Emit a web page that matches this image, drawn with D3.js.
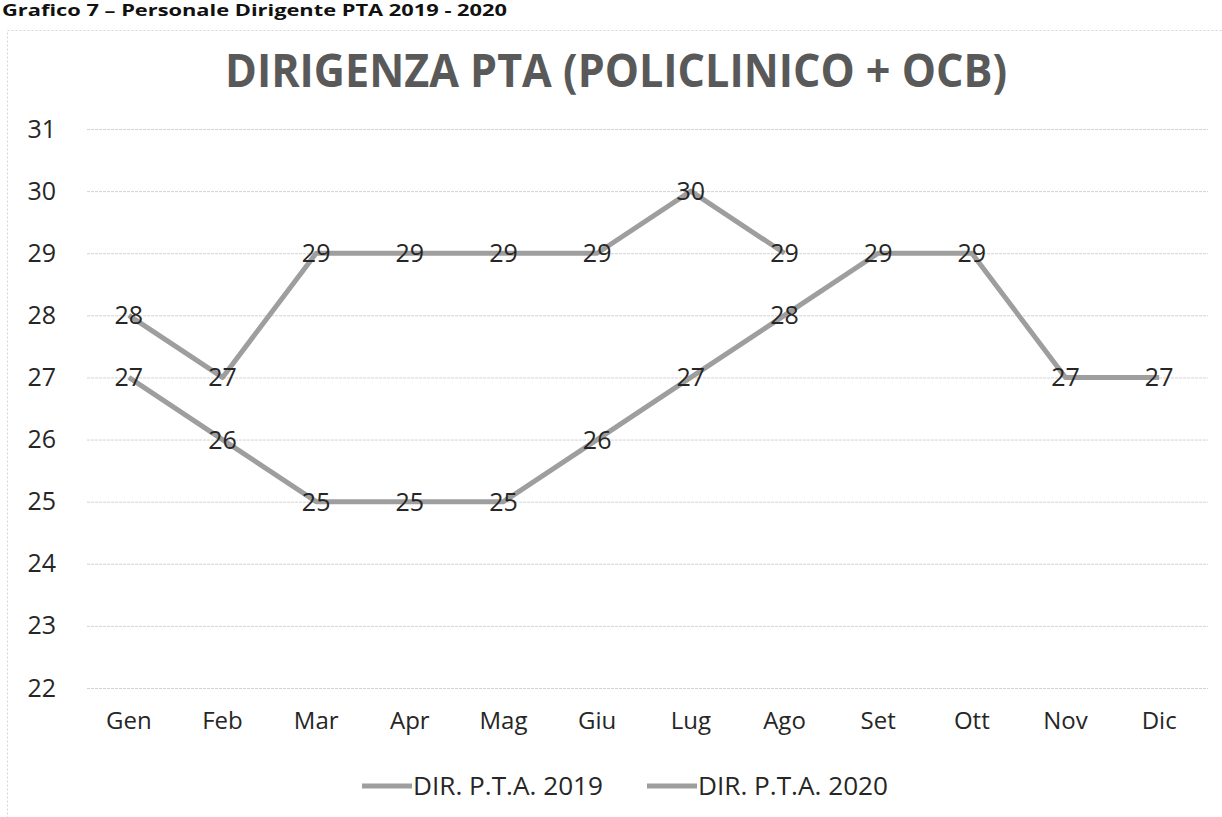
<!DOCTYPE html>
<html>
<head>
<meta charset="utf-8">
<script src="https://cdnjs.cloudflare.com/ajax/libs/d3/7.8.5/d3.min.js"></script>
<style>
  body { margin: 0; background: #fff; }
  text { font-family: "Open Sans", sans-serif; }
</style>
</head>
<body>
<div id="chart"></div>
<script>
var months = ["Gen", "Feb", "Mar", "Apr", "Mag", "Giu", "Lug", "Ago", "Set", "Ott", "Nov", "Dic"];
var values2019 = [27, 26, 25, 25, 25, 26, 27, 28, 29, 29, 27, 27];
var values2020 = [28, 27, 29, 29, 29, 29, 30, 29];
var yTicks = [22, 23, 24, 25, 26, 27, 28, 29, 30, 31];
var seriesNames = ["DIR. P.T.A. 2019", "DIR. P.T.A. 2020"];

var width = 1222, height = 817;
var lineColor = "#9e9e9e";
var textColor = "#262626";

var svg = d3.select("#chart").append("svg")
    .attr("width", width)
    .attr("height", height);

// page caption at the top of the scan
svg.append("text")
    .attr("x", 2).attr("y", 16)
    .attr("font-family", "Liberation Sans, Arial, sans-serif")
    .attr("font-weight", "bold")
    .attr("font-size", 16)
    .attr("fill", "#111")
    .attr("textLength", 505)
    .attr("lengthAdjust", "spacingAndGlyphs")
    .text("Grafico 7 – Personale Dirigente PTA 2019 - 2020");

// chart frame
svg.append("rect")
    .attr("x", 7.5).attr("y", 30.5)
    .attr("width", 1240).attr("height", 820)
    .attr("fill", "none")
    .attr("stroke", "#d4d4d4")
    .attr("stroke-dasharray", "2,2");

var x = d3.scaleBand().domain(months).range([82, 1206]);
var y = d3.scaleLinear().domain([22, 31]).range([688, 129]);

// grid
svg.append("g")
    .selectAll("line")
    .data(yTicks)
    .enter().append("line")
    .attr("x1", 87).attr("x2", 1208)
    .attr("y1", function(d) { return y(d) + 0.5; })
    .attr("y2", function(d) { return y(d) + 0.5; })
    .attr("stroke", "#d3d3d3")
    .attr("stroke-dasharray", "3,1");

// y axis labels
var yAxis = d3.axisLeft(y).tickValues(yTicks).tickSize(0).tickPadding(0);
svg.append("g")
    .attr("transform", "translate(56,0)")
    .call(yAxis)
    .call(function(g) {
        g.select(".domain").remove();
        g.selectAll("text")
            .attr("font-family", "Open Sans, sans-serif")
            .attr("font-size", 25)
            .attr("fill", textColor);
    });

// x axis labels
var xAxis = d3.axisBottom(x).tickSize(0).tickPadding(0);
svg.append("g")
    .attr("transform", "translate(0,712)")
    .call(xAxis)
    .call(function(g) {
        g.select(".domain").remove();
        g.selectAll("text")
            .attr("font-family", "Open Sans, sans-serif")
            .attr("font-size", 24)
            .attr("fill", textColor);
    });

// title
svg.append("text")
    .attr("x", 616).attr("y", 87)
    .attr("text-anchor", "middle")
    .attr("font-family", "Open Sans, sans-serif")
    .attr("font-weight", "bold")
    .attr("font-size", 46)
    .attr("fill", "#595959")
    .attr("textLength", 782)
    .attr("lengthAdjust", "spacingAndGlyphs")
    .text("DIRIGENZA PTA (POLICLINICO + OCB)");

var line = d3.line()
    .x(function(d, i) { return x(months[i]) + x.bandwidth() / 2; })
    .y(function(d) { return y(d); });

[values2019, values2020].forEach(function(vals) {
    svg.append("path")
        .datum(vals)
        .attr("d", line)
        .attr("fill", "none")
        .attr("stroke", lineColor)
        .attr("stroke-width", 5)
        .attr("stroke-linejoin", "round");
});

[values2019, values2020].forEach(function(vals) {
    svg.append("g")
        .selectAll("text")
        .data(vals)
        .enter().append("text")
        .attr("x", function(d, i) { return x(months[i]) + x.bandwidth() / 2; })
        .attr("y", function(d) { return y(d); })
        .attr("dy", "0.36em")
        .attr("text-anchor", "middle")
        .attr("font-size", 25)
        .attr("fill", textColor)
        .text(function(d) { return d; });
});

// legend
var legend = svg.append("g").attr("transform", "translate(0,786)");
var legendX = [362, 647];
seriesNames.forEach(function(name, i) {
    legend.append("line")
        .attr("x1", legendX[i]).attr("x2", legendX[i] + 50)
        .attr("y1", 0).attr("y2", 0)
        .attr("stroke", lineColor)
        .attr("stroke-width", 5);
    legend.append("text")
        .attr("x", legendX[i] + 51)
        .attr("y", 0)
        .attr("dy", "0.36em")
        .attr("font-size", 25)
        .attr("fill", textColor)
        .attr("textLength", 190)
        .attr("lengthAdjust", "spacingAndGlyphs")
        .text(name);
});
</script>
</body>
</html>
